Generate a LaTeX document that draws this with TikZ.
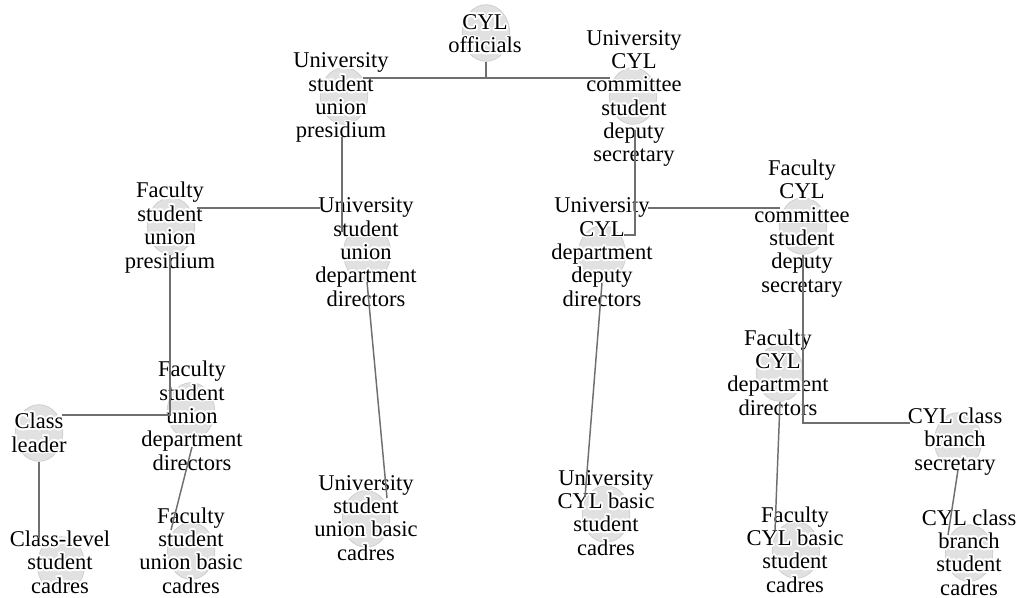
\documentclass[tikz,border=0pt]{standalone}
\usepackage{fontspec}
\setmainfont{Liberation Serif}
\usepackage{contour}
\contourlength{1.3pt}
\contournumber{24}
\usetikzlibrary{shapes.geometric}
\definecolor{blobfill}{HTML}{E1E1E1}
\definecolor{blobline}{HTML}{D0D0D0}
\definecolor{edgecol}{HTML}{6F6F6F}
\newcommand{\hl}[1]{\contour{white}{#1}}
\begin{document}
\begin{tikzpicture}[x=0.75pt,y=-0.75pt,
  blob/.style={ellipse, fill=blobfill, draw=blobline, line width=0.6pt,
    minimum width=35.5pt, minimum height=42.5pt, inner sep=0pt},
  lbl/.style={anchor=base, align=center, inner sep=0pt,
    font=\fontsize{16.9}{17.5}\selectfont},
  link/.style={draw=edgecol, line width=1.1pt}]
\path[use as bounding box, fill=white] (0,0) rectangle (1019,598);

% ellipses
\node[blob] (b1)  at (486,33)  {};
\node[blob] (b2)  at (344,96)  {};
\node[blob] (b3)  at (633,96)  {};
\node[blob] (b4)  at (171,226) {};
\node[blob] (b5)  at (367,253) {};
\node[blob] (b6)  at (602,254) {};
\node[blob] (b7)  at (803,226) {};
\node[blob] (b8)  at (191,411) {};
\node[blob] (b9)  at (39,433)  {};
\node[blob] (b10) at (780,373) {};
\node[blob] (b11) at (958,441) {};
\node[blob] (b12) at (606,514) {};
\node[blob] (b13) at (366,519) {};
\node[blob] (b14) at (61,565)  {};
\node[blob] (b15) at (191,551) {};
\node[blob] (b16) at (796,550) {};
\node[blob] (b17) at (969,553) {};

% labels (anchored at the baseline of their last line)
\node[lbl] (t1)  at (485,53)  {\hl{CYL}\\\hl{officials}};
\node[lbl] (t2)  at (341,138) {\hl{University}\\\hl{student}\\\hl{union}\\\hl{presidium}};
\node[lbl] (t3)  at (634,162) {\hl{University}\\\hl{CYL}\\\hl{committee}\\\hl{student}\\\hl{deputy}\\\hl{secretary}};
\node[lbl] (t4)  at (170,268) {\hl{Faculty}\\\hl{student}\\\hl{union}\\\hl{presidium}};
\node[lbl] (t5)  at (366,306) {\hl{University}\\\hl{student}\\\hl{union}\\\hl{department}\\\hl{directors}};
\node[lbl] (t6)  at (602,306) {\hl{University}\\\hl{CYL}\\\hl{department}\\\hl{deputy}\\\hl{directors}};
\node[lbl] (t7)  at (802,292) {\hl{Faculty}\\\hl{CYL}\\\hl{committee}\\\hl{student}\\\hl{deputy}\\\hl{secretary}};
\node[lbl] (t8)  at (192,470) {\hl{Faculty}\\\hl{student}\\\hl{union}\\\hl{department}\\\hl{directors}};
\node[lbl] (t9)  at (39,452)  {\hl{Class}\\\hl{leader}};
\node[lbl] (t10) at (778,415) {\hl{Faculty}\\\hl{CYL}\\\hl{department}\\\hl{directors}};
\node[lbl] (t11) at (955,470) {\hl{CYL class}\\\hl{branch}\\\hl{secretary}};
\node[lbl] (t12) at (606,555) {\hl{University}\\\hl{CYL basic}\\\hl{student}\\\hl{cadres}};
\node[lbl] (t13) at (366,560) {\hl{University}\\\hl{student}\\\hl{union basic}\\\hl{cadres}};
\node[lbl] (t14) at (60,593)  {\hl{Class-level}\\\hl{student}\\\hl{cadres}};
\node[lbl] (t15) at (191,593) {\hl{Faculty}\\\hl{student}\\\hl{union basic}\\\hl{cadres}};
\node[lbl] (t16) at (795,592) {\hl{Faculty}\\\hl{CYL basic}\\\hl{student}\\\hl{cadres}};
\node[lbl] (t17) at (969,595) {\hl{CYL class}\\\hl{branch}\\\hl{student}\\\hl{cadres}};

% junctions and free ends
\coordinate (jA) at (486,78);
\coordinate (a2) at (363,78);
\coordinate (a3) at (610,78);
\coordinate (c0) at (342,137);
\coordinate (c1) at (342,232);
\coordinate (d1) at (197,208);
\coordinate (d2) at (320,208);
\coordinate (e0) at (635,130);
\coordinate (e1) at (635,235);
\coordinate (e2) at (624,235);
\coordinate (f1) at (648,208);
\coordinate (f2) at (780,208);
\coordinate (g1) at (170,415);
\coordinate (g2) at (62,415);
\coordinate (h1) at (803,423);
\coordinate (h2) at (910,423);
\coordinate (i1) at (775,530);
\coordinate (j1) at (948,535);
\coordinate (k1) at (585,497);
\coordinate (l1) at (387,498);
\coordinate (m0) at (192,447);
\coordinate (m1) at (171,530);
\coordinate (n1) at (39,538);

% connectors
\draw[link] (b1.south) -- (jA);
\draw[link] (a2) -- (a3);
\draw[link] (c0) -- (c1);
\draw[link] (d1) -- (d2);
\draw[link] (e0) -- (e1) -- (e2);
\draw[link] (f1) -- (f2);
\draw[link] (b4.south -| g1) -- (g1) -- (g2);
\draw[link] (b7.south) -- (h1) -- (h2);
\draw[link] (b10.south) -- (i1);
\draw[link] (b11.south) -- (j1);
\draw[link] (b6.south) -- (k1);
\draw[link] (b5.south) -- (l1);
\draw[link] (m0) -- (m1);
\draw[link] (b9.south) -- (n1);
\end{tikzpicture}
\end{document}
